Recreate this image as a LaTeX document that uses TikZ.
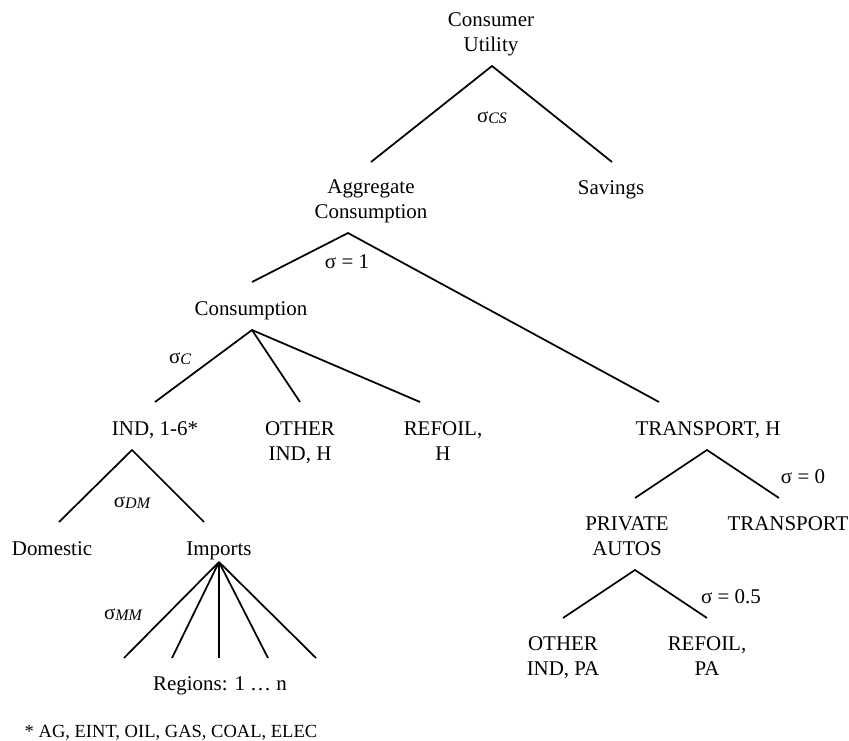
\documentclass[tikz,border=0pt]{standalone}
\usepackage{fontspec}
\setmainfont{Liberation Serif}
\tikzset{
  treenode/.style = {align=center, inner sep=0pt, anchor=base, font=\fontsize{15.7}{18.75}\selectfont},
  sigma_lbl/.style = {inner sep=0pt, font=\fontsize{15.7}{18.75}\selectfont},
  foot_note/.style = {treenode, font=\fontsize{13.9}{16}\selectfont},
  branch/.style = {line width=1.3pt}
}
\newcommand{\elas}[1]{σ\raisebox{-0.1ex}{\fontsize{12}{12}\selectfont\itshape #1}}

\begin{document}
\begin{tikzpicture}[x=0.75pt, y=-0.75pt]
  \useasboundingbox (0,0) rectangle (849,740);
  % tree nodes
  \node [treenode] (cu) at (491,51) {Consumer\\Utility};
  \node [treenode] (agg) at (371,218) {Aggregate\\Consumption};
  \node [treenode] (sav) at (611,194) {Savings};
  \node [treenode] (cons) at (251,315) {Consumption};
  \node [treenode] (ind) at (155,435) {IND, 1-6*};
  \node [treenode] (oth) at (300,460) {OTHER\\IND, H};
  \node [treenode] (ref) at (443,460) {REFOIL,\\H};
  \node [treenode] (trh) at (708,435) {TRANSPORT, H};
  \node [treenode] (dom) at (52,555) {Domestic};
  \node [treenode] (imp) at (219,555) {Imports};
  \node [treenode] (reg) at (220,690) {Regions: 1 … n};
  \node [treenode] (pa) at (627,555) {PRIVATE\\AUTOS};
  \node [treenode] (trn) at (788,530) {TRANSPORT};
  \node [treenode] (othpa) at (563,675) {OTHER\\IND, PA};
  \node [treenode] (refpa) at (707,675) {REFOIL,\\PA};
  \node [foot_note] (note) at (171,737) {* AG, EINT, OIL, GAS, COAL, ELEC};

  % elasticities
  \node [sigma_lbl] (s_cs) at (492,118) {\elas{CS}};
  \node [sigma_lbl] (s_agg) at (347,262) {σ = 1};
  \node [sigma_lbl] (s_c) at (180,359) {\elas{C}};
  \node [sigma_lbl] (s_dm) at (132,503) {\elas{DM}};
  \node [sigma_lbl] (s_mm) at (123,615) {\elas{MM}};
  \node [sigma_lbl] (s_tr) at (803,477) {σ = 0};
  \node [sigma_lbl] (s_pa) at (731,597) {σ = 0.5};

  % branch points
  \coordinate (cu-fork) at (492,66);
  \coordinate (agg-in) at (371,162);
  \coordinate (sav-in) at (612,162);
  \coordinate (agg-fork) at (348,233);
  \coordinate (cons-in) at (252,282);
  \coordinate (trh-in) at (659,402);
  \coordinate (cons-fork) at (252,330);
  \coordinate (ind-in) at (155,402);
  \coordinate (oth-in) at (300,402);
  \coordinate (ref-in) at (420,402);
  \coordinate (ind-fork) at (132,450);
  \coordinate (dom-in) at (59,522);
  \coordinate (imp-in) at (204,522);
  \coordinate (imp-fork) at (219,562);
  \foreach \x [count=\i] in {124,172,219,268,316}
    \coordinate (reg-\i) at (\x,658);
  \coordinate (trh-fork) at (707,450);
  \coordinate (pa-in) at (635,498);
  \coordinate (trn-in) at (779,498);
  \coordinate (pa-fork) at (635,570);
  \coordinate (othpa-in) at (563,618);
  \coordinate (refpa-in) at (707,618);

  % branches
  \draw [branch] (agg-in) -- (cu-fork) -- (sav-in);
  \draw [branch] (cons-in) -- (agg-fork) -- (trh-in);
  \draw [branch] (ind-in) -- (cons-fork) -- (oth-in);
  \draw [branch] (cons-fork) -- (ref-in);
  \draw [branch] (dom-in) -- (ind-fork) -- (imp-in);
  \foreach \i in {1,...,5}
    \draw [branch] (imp-fork) -- (reg-\i);
  \draw [branch] (pa-in) -- (trh-fork) -- (trn-in);
  \draw [branch] (othpa-in) -- (pa-fork) -- (refpa-in);
\end{tikzpicture}
\end{document}
